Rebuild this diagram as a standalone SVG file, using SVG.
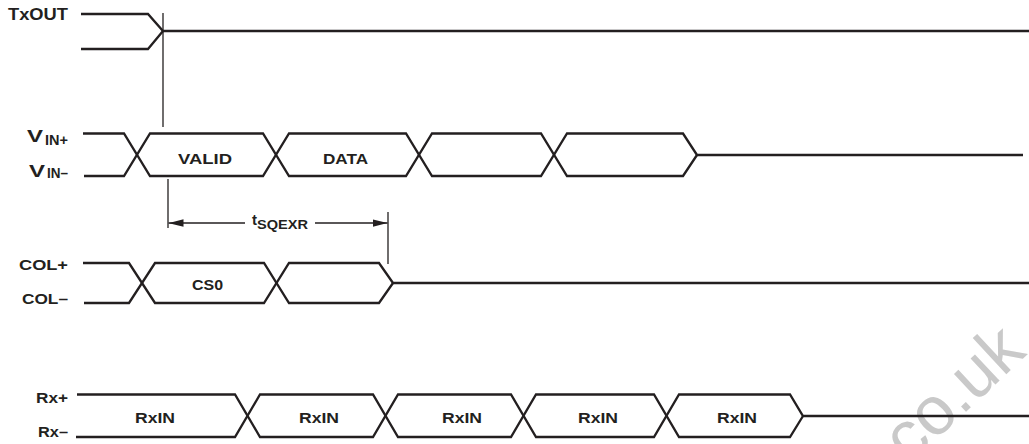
<svg xmlns="http://www.w3.org/2000/svg" width="1029" height="444" viewBox="0 0 1029 444">
<style>
.sig{fill:none;stroke:#231f20;stroke-width:2.3;stroke-linejoin:miter}
.thin{fill:none;stroke:#231f20;stroke-width:1.3}
.lbl{font-family:"Liberation Sans",Arial,sans-serif;font-weight:bold;fill:#231f20}
.f15{font-size:15px}
.f14{font-size:14px}
.mid{text-anchor:middle}
.wm{font-family:"Liberation Sans",Arial,sans-serif;font-size:68px;fill:#c9c9c9}
</style>
<defs>
<marker id="ah" markerUnits="userSpaceOnUse" markerWidth="15" markerHeight="8" refX="15" refY="3.75" orient="auto">
<path d="M0,0 L15,3.75 L0,7.5 z" fill="#231f20"/>
</marker>
</defs>
<rect width="1029" height="444" fill="#ffffff"/>
<text class="wm" transform="translate(909,465) rotate(-43)">co.uk</text>

<g id="txout">
<text class="lbl" x="8" y="20" font-size="16" textLength="60" lengthAdjust="spacingAndGlyphs">TxOUT</text>
<path class="sig" d="M81,14 H148 L163,31 H1029"/>
<path class="sig" d="M81,49 H148 L163,31"/>
</g>

<g id="vin">
<text class="lbl" x="27" y="142" font-size="17" textLength="16" lengthAdjust="spacingAndGlyphs">V</text>
<text class="lbl" x="45" y="145" font-size="14.5" textLength="23" lengthAdjust="spacingAndGlyphs">IN+</text>
<text class="lbl" x="29" y="177" font-size="17" textLength="16" lengthAdjust="spacingAndGlyphs">V</text>
<text class="lbl" x="47" y="178" font-size="14.5" textLength="21" lengthAdjust="spacingAndGlyphs">IN–</text>
<path class="sig" d="M83,133.5 H124 L150,176 H263 L289,133.5 H406 L432,176 H541 L567,133.5 H683 L697,155 H1023"/>
<path class="sig" d="M84,176 H124 L150,133.5 H263 L289,176 H406 L432,133.5 H541 L567,176 H683 L697,155"/>
<text class="lbl f15" x="178" y="164" textLength="54" lengthAdjust="spacingAndGlyphs">VALID</text>
<text class="lbl f15" x="323" y="164" textLength="45" lengthAdjust="spacingAndGlyphs">DATA</text>
</g>

<g id="col">
<text class="lbl f14" x="19" y="270" textLength="49" lengthAdjust="spacingAndGlyphs">COL+</text>
<text class="lbl f14" x="22" y="304" textLength="46" lengthAdjust="spacingAndGlyphs">COL–</text>
<path class="sig" d="M83,263 H129 L155,303 H264 L289,263 H379 L393,283 H1029"/>
<path class="sig" d="M84,303 H129 L155,263 H264 L289,303 H379 L393,283"/>
<text class="lbl f15" x="192" y="290" textLength="31" lengthAdjust="spacingAndGlyphs">CS0</text>
</g>

<g id="rx">
<text class="lbl f14" x="36" y="403" textLength="32" lengthAdjust="spacingAndGlyphs">Rx+</text>
<text class="lbl f14" x="38" y="437" textLength="30" lengthAdjust="spacingAndGlyphs">Rx–</text>
<path class="sig" d="M77,394.5 H235 L260,437 H373 L398,394.5 H511 L536,437 H654 L679,394.5 H790 L803,416 H1029"/>
<path class="sig" d="M76,437 H235 L260,394.5 H373 L398,437 H511 L536,394.5 H654 L679,437 H790 L803,416"/>
<text class="lbl f15" x="135" y="423" textLength="40" lengthAdjust="spacingAndGlyphs">RxIN</text>
<text class="lbl f15" x="299" y="423" textLength="40" lengthAdjust="spacingAndGlyphs">RxIN</text>
<text class="lbl f15" x="442" y="423" textLength="40" lengthAdjust="spacingAndGlyphs">RxIN</text>
<text class="lbl f15" x="578" y="423" textLength="40" lengthAdjust="spacingAndGlyphs">RxIN</text>
<text class="lbl f15" x="717" y="423" textLength="40" lengthAdjust="spacingAndGlyphs">RxIN</text>
</g>

<g id="connectors">
<line class="thin" x1="163" y1="13" x2="163" y2="127"/>
<line class="thin" x1="168" y1="179" x2="168" y2="228"/>
<line class="thin" x1="388" y1="212" x2="388" y2="264"/>
<line class="thin" x1="245" y1="223" x2="168.5" y2="223" marker-end="url(#ah)"/>
<line class="thin" x1="315" y1="223" x2="387.5" y2="223" marker-end="url(#ah)"/>
</g>

<g id="tsqexr">
<text class="lbl" x="252" y="224.5" font-size="15">t</text>
<text class="lbl" x="257" y="229" font-size="12.5" textLength="51" lengthAdjust="spacingAndGlyphs">SQEXR</text>
</g>
</svg>
